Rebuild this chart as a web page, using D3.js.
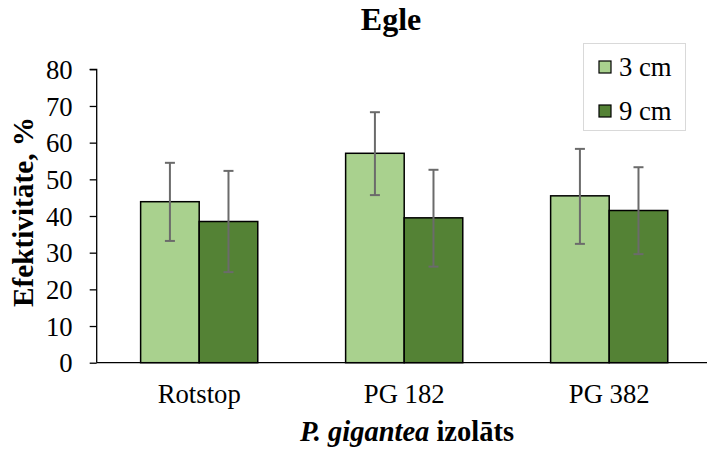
<!DOCTYPE html>
<html><head><meta charset="utf-8">
<script src="https://cdn.jsdelivr.net/npm/d3@7"></script>
<style>body{margin:0;background:#fff}svg{display:block}</style>
</head><body>
<svg id="c" width="707" height="450"></svg>
<script>
const categories = ["Rotstop", "PG 182", "PG 382"];
const seriesNames = ["3 cm", "9 cm"];
const values3 = [43.9, 57.1, 45.5];
const values9 = [38.5, 39.5, 41.5];
const errLow3 = [33.2, 45.7, 32.4];
const errHigh3 = [54.5, 68.3, 58.3];
const errLow9 = [24.7, 26.2, 29.6];
const errHigh9 = [52.3, 52.6, 53.3];
const yTicks = [0, 10, 20, 30, 40, 50, 60, 70, 80];
const colors = ["#a9d18e", "#548235"];

const FONT = "'Liberation Serif', 'Times New Roman', serif";
const svg = d3.select("#c").style("font-family", FONT);
const y = d3.scaleLinear().domain([0, 80]).range([362.7, 69.3]);
const x = d3.scaleBand().domain(categories).range([96.7, 711.7]).padding(0);
const inner = d3.scaleBand().domain(seriesNames).range([0, x.bandwidth()]).paddingInner(0).paddingOuter(0.75);

const data = [];
categories.forEach((c, i) => {
  data.push({c, s: seriesNames[0], v: values3[i], lo: errLow3[i], hi: errHigh3[i], col: colors[0]});
  data.push({c, s: seriesNames[1], v: values9[i], lo: errLow9[i], hi: errHigh9[i], col: colors[1]});
});

svg.append("g").selectAll("rect").data(data).join("rect")
  .attr("x", d => x(d.c) + inner(d.s))
  .attr("y", d => y(d.v))
  .attr("width", inner.bandwidth())
  .attr("height", d => y(0) - y(d.v))
  .attr("fill", d => d.col)
  .attr("stroke", "#000").attr("stroke-width", 1.5);

const eg = svg.append("g").attr("stroke", "#6b6b6b").attr("stroke-width", 2);
data.forEach(d => {
  const cx = x(d.c) + inner(d.s) + inner.bandwidth() / 2;
  eg.append("line").attr("x1", cx).attr("x2", cx).attr("y1", y(d.hi)).attr("y2", y(d.lo));
  eg.append("line").attr("x1", cx - 5).attr("x2", cx + 5).attr("y1", y(d.hi)).attr("y2", y(d.hi));
  eg.append("line").attr("x1", cx - 5).attr("x2", cx + 5).attr("y1", y(d.lo)).attr("y2", y(d.lo));
});

const yAxis = d3.axisLeft(y).tickValues(yTicks).tickSize(7).tickPadding(17);
const ya = svg.append("g").attr("transform", "translate(96.7,0)").call(yAxis)
  .attr("font-family", null).attr("font-size", null);
ya.select(".domain").attr("stroke", "#000").attr("stroke-width", 1.3).attr("d", `M-7,${y(80)}H0V${y(0)}`);
ya.selectAll(".tick line").attr("stroke", "#000").attr("stroke-width", 1.3);
ya.selectAll(".tick text").style("font-size", "26.7px").style("font-family", FONT).attr("fill", "#000").attr("dy", "0.34em");

const xa = svg.append("g").attr("transform", `translate(0,${y(0)})`)
  .call(d3.axisBottom(x).tickSize(0).tickPadding(0))
  .attr("font-family", null).attr("font-size", null);
xa.select(".domain").attr("stroke", "#000").attr("stroke-width", 1.3).attr("d", `M96.7,0H707`);
xa.selectAll(".tick text").style("font-size", "26.7px").style("font-family", FONT).attr("fill", "#000")
  .attr("dy", null).attr("y", 40);

svg.append("text").attr("x", 391).attr("y", 30).attr("text-anchor", "middle")
  .style("font-size", "32px").style("font-family", FONT).attr("font-weight", "bold").text("Egle");

function fit(sel, target) {
  const w = sel.node().getComputedTextLength();
  const fs = parseFloat(sel.style("font-size"));
  sel.style("font-size", (fs * target / w).toFixed(2) + "px");
}

const xt = svg.append("text").attr("x", 407).attr("y", 441).attr("text-anchor", "middle")
  .style("font-size", "26.7px").style("font-family", FONT).attr("font-weight", "bold");
xt.append("tspan").attr("font-style", "italic").text("P. gigantea");
xt.append("tspan").text(" izolāts");
fit(xt, 214);

const yt = svg.append("text").attr("transform", `translate(33,212) rotate(-90)`)
  .attr("text-anchor", "middle").style("font-size", "26.7px").style("font-family", FONT).attr("font-weight", "bold")
  .text("Efektivitāte, %");
fit(yt, 190);

const lg = svg.append("g");
lg.append("rect").attr("x", 583.5).attr("y", 43.5).attr("width", 102).attr("height", 87)
  .attr("fill", "#fff").attr("stroke", "#d9d9d9").attr("stroke-width", 1);
seriesNames.forEach((s, i) => {
  const yy = 67 + i * 44;
  lg.append("rect").attr("x", 599).attr("y", yy - 6).attr("width", 12).attr("height", 12)
    .attr("fill", colors[i]).attr("stroke", "#000").attr("stroke-width", 1.2);
  lg.append("text").attr("x", 619).attr("y", yy + 8.5).style("font-size", "26.7px").style("font-family", FONT).text(s);
});
</script>
</body></html>
